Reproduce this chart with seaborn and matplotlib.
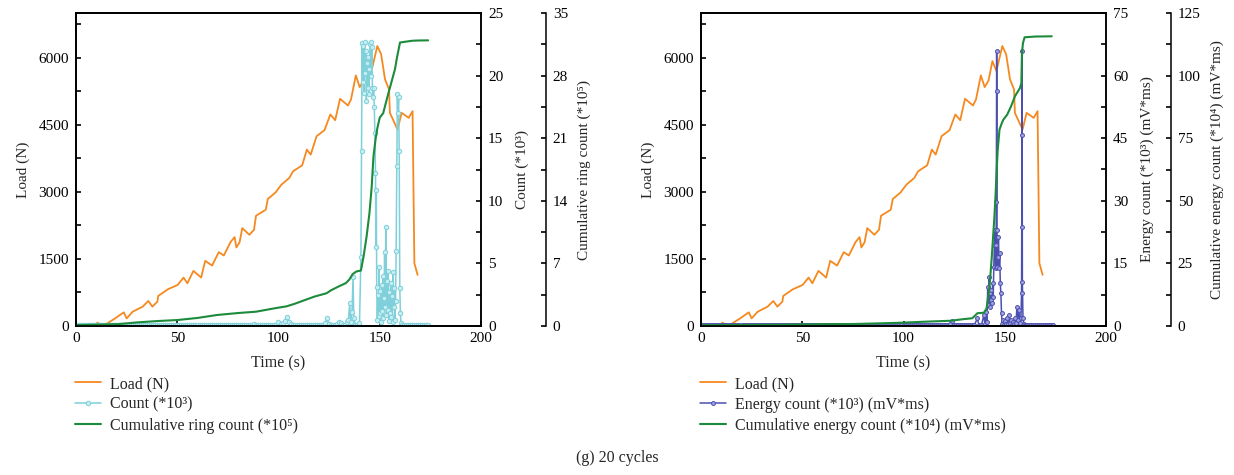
import matplotlib
matplotlib.use("Agg")
import matplotlib.pyplot as plt
import seaborn as sns
from matplotlib.ticker import MultipleLocator

# ---------------- data ----------------
load_t = [9.0, 10.6, 13.0, 15.5, 19.3, 23.6, 25.0, 28.0, 32.9, 35.7, 37.7, 40.2, 40.6,
          45.4, 50.2, 53.1, 55.0, 58.0, 61.8, 63.8, 67.2, 70.5, 73.0, 74.4, 76.3, 78.3,
          79.2, 80.8, 82.1, 85.6, 87.9, 88.9, 93.7, 94.7, 98.6, 101.4, 105.3, 107.2,
          111.7, 114.0, 115.9, 118.8, 122.7, 125.6, 128.0, 130.4, 134.3, 135.8, 138.2,
          140.1, 142.0, 143.9, 145.9, 148.8, 150.7, 152.6, 154.6, 155.0, 158.8, 160.8,
          164.3, 166.2, 167.1, 168.7]
load_n = [0, 75, 0, 60, 170, 306, 170, 320, 433, 560, 433, 545, 672, 822, 919, 1083, 956,
          1233, 1083, 1457, 1352, 1651, 1577, 1704, 1875, 1988, 1756, 1875, 2189, 2040,
          2152, 2466, 2600, 2839, 2989, 3160, 3310, 3460, 3594, 3945, 3833, 4244, 4379,
          4730, 4603, 5081, 4931, 5066, 5604, 5342, 5492, 5925, 5701, 6262, 6075, 5514,
          5290, 4767, 4394, 4767, 4655, 4804, 1405, 1143]

# Count (*10^3): quiet stage sampled every second (0-134 s), then the bursts
count_t = [0, 1, 2, 3, 4, 5, 6, 7, 8, 9, 10, 11, 12, 13, 14, 15, 16, 17, 18, 19,
           20, 21, 22, 23, 24, 25, 26, 27, 28, 29, 30, 31, 32, 33, 34, 35, 36, 37, 38, 39,
           40, 41, 42, 43, 44, 45, 46, 47, 48, 49, 50, 51, 52, 53, 54, 55, 56, 57, 58, 59,
           60, 61, 62, 63, 64, 65, 66, 67, 68, 69, 70, 71, 72, 73, 74, 75, 76, 77, 78, 79,
           80, 81, 82, 83, 84, 85, 86, 87, 88, 89, 90, 91, 92, 93, 94, 95, 96, 97, 98, 99,
           100, 101, 102, 103, 104, 105, 106, 107, 108, 109, 110, 111, 112, 113, 114, 115,
           116, 117, 118, 119, 120, 121, 122, 123, 124, 125, 126, 127, 128, 129, 130, 131,
           132, 133, 134,
           134.5, 135.2, 135.6, 136.3, 136.8, 137.2, 138.0, 139.0, 140.0, 140.7, 141.0,
           141.3, 141.6, 141.9, 142.2, 142.5, 142.8, 143.1, 143.4, 143.7, 144.0, 144.3,
           144.6, 144.9, 145.2, 145.5, 145.8, 146.1, 146.4, 146.7, 147.0, 147.3, 147.6,
           147.9, 148.1, 148.3, 148.5, 148.8, 149.1, 149.4, 149.7, 150.0, 150.3, 150.6,
           150.9, 151.2, 151.5, 151.8, 152.1, 152.4, 152.7, 153.0, 153.3, 153.6, 153.9,
           154.2, 154.5, 154.8, 155.1, 155.4, 155.7, 156.0, 156.3, 156.6, 156.9, 157.2,
           157.5, 157.8, 158.1, 158.4, 158.7, 159.0, 159.3, 159.6, 159.9, 160.2, 160.5,
           161, 162, 163, 164, 165, 166, 167, 168, 169, 170, 171, 172, 173, 174]
count_v = [0.05, 0.05, 0.05, 0.05, 0.05, 0.05, 0.05, 0.05, 0.05, 0.05,
           0.05, 0.05, 0.05, 0.05, 0.05, 0.05, 0.05, 0.05, 0.05, 0.05,
           0.05, 0.05, 0.05, 0.05, 0.05, 0.05, 0.05, 0.05, 0.05, 0.05,
           0.05, 0.05, 0.05, 0.05, 0.05, 0.05, 0.05, 0.05, 0.05, 0.05,
           0.05, 0.05, 0.05, 0.05, 0.05, 0.05, 0.05, 0.05, 0.05, 0.05,
           0.05, 0.05, 0.05, 0.05, 0.05, 0.1, 0.05, 0.05, 0.05, 0.05,
           0.05, 0.05, 0.05, 0.05, 0.05, 0.05, 0.05, 0.05, 0.05, 0.05,
           0.05, 0.05, 0.05, 0.05, 0.05, 0.05, 0.05, 0.05, 0.05, 0.05,
           0.05, 0.05, 0.05, 0.05, 0.05, 0.05, 0.05, 0.05, 0.15, 0.1,
           0.05, 0.05, 0.05, 0.05, 0.05, 0.05, 0.05, 0.05, 0.05, 0.1,
           0.3, 0.15, 0.2, 0.4, 0.75, 0.3, 0.15, 0.05, 0.05, 0.05,
           0.1, 0.05, 0.05, 0.05, 0.05, 0.05, 0.1, 0.05, 0.05, 0.05,
           0.05, 0.05, 0.05, 0.2, 0.6, 0.15, 0.05, 0.05, 0.05, 0.15,
           0.35, 0.2, 0.1, 0.05, 0.3,
           0.5, 1.8, 0.3, 1.1, 3.9, 0.6, 0.1, 0.05, 0.2, 5.5, 14.0, 22.6, 19.5, 22.4, 18.6,
           22.7, 20.2, 22.0, 18.0, 21.0, 19.0, 21.5, 18.5, 20.5, 22.5, 22.7, 20.0, 22.3,
           19.0, 18.3, 19.0, 17.5, 15.4, 12.2, 6.3, 10.9, 3.1, 0.5, 2.5, 0.8, 4.7, 1.0,
           2.8, 0.3, 3.3, 1.2, 4.0, 0.6, 2.2, 5.9, 1.5, 7.9, 0.9, 3.6, 1.3, 4.4, 0.4, 2.7,
           1.0, 3.4, 0.7, 2.4, 0.3, 4.3, 1.5, 3.0, 0.5, 2.0, 6.0, 12.8, 18.5, 17.0, 18.3,
           14.0, 3.0, 1.0, 0.2,
           0.05, 0.05, 0.05, 0.05, 0.05, 0.05, 0.05, 0.05, 0.05, 0.05, 0.05, 0.05, 0.05,
           0.05]

# Cumulative ring count (*10^5)
cum_t = [0, 10, 21.3, 30, 40, 50.2, 60, 69.6, 80, 88.9, 98.6, 104, 108.2, 113, 117.9,
         123.7, 126, 129.5, 133.3, 135, 136.6, 138.5, 140.7, 142.0, 143.5, 144.9, 146.0,
         146.9, 148.0, 148.8, 150, 151.7, 154, 157.5, 158.5, 160.0, 163, 166.2, 170, 173.9]
cum_v = [0.1, 0.15, 0.22, 0.4, 0.55, 0.67, 0.9, 1.23, 1.45, 1.6, 2.0, 2.2, 2.5, 2.9, 3.3,
         3.66, 4.0, 4.4, 4.8, 5.2, 5.8, 6.1, 6.2, 7.76, 10.0, 12.6, 15.5, 18.96, 21.0,
         22.1, 23.3, 23.8, 25.8, 28.7, 30.0, 31.7, 31.8, 31.9, 31.93, 31.94]

# Energy count (*10^3) (mV*ms): quiet stage every second (0-135 s), then the bursts
energy_t = [0, 1, 2, 3, 4, 5, 6, 7, 8, 9, 10, 11, 12, 13, 14, 15, 16, 17, 18, 19,
            20, 21, 22, 23, 24, 25, 26, 27, 28, 29, 30, 31, 32, 33, 34, 35, 36, 37, 38, 39,
            40, 41, 42, 43, 44, 45, 46, 47, 48, 49, 50, 51, 52, 53, 54, 55, 56, 57, 58, 59,
            60, 61, 62, 63, 64, 65, 66, 67, 68, 69, 70, 71, 72, 73, 74, 75, 76, 77, 78, 79,
            80, 81, 82, 83, 84, 85, 86, 87, 88, 89, 90, 91, 92, 93, 94, 95, 96, 97, 98, 99,
            100, 101, 102, 103, 104, 105, 106, 107, 108, 109, 110, 111, 112, 113, 114, 115,
            116, 117, 118, 119, 120, 121, 122, 123, 124, 125, 126, 127, 128, 129, 130, 131,
            132, 133, 134, 135,
            136.5, 137.2, 138.5, 139.7, 140.2, 140.7, 141.2, 141.6, 141.9, 142.2, 142.5,
            142.8, 143.1, 143.4, 143.7, 144.0, 144.3, 144.6, 144.9, 145.2, 145.5, 145.7,
            145.85, 146.0, 146.1, 146.2, 146.4, 146.6, 146.9, 147.2, 147.5, 147.8, 148.1,
            148.4, 148.7, 149.0, 149.5, 150.0, 150.5, 151.0, 151.5, 152.2, 152.7, 153.2,
            153.7, 154.2, 154.7, 155.2, 155.6, 156.0, 156.5, 157.0, 157.5, 158.0, 158.3,
            158.4, 158.5, 158.6, 158.7, 159.0, 159.4, 159.8, 160.5,
            161, 162, 163, 164, 165, 166, 167, 168, 169, 170, 171, 172, 173, 174]
energy_v = [0.2, 0.2, 0.2, 0.2, 0.2, 0.2, 0.2, 0.2, 0.2, 0.2,
            0.2, 0.2, 0.2, 0.2, 0.2, 0.2, 0.2, 0.2, 0.2, 0.2,
            0.2, 0.2, 0.2, 0.2, 0.2, 0.2, 0.2, 0.2, 0.2, 0.2,
            0.2, 0.2, 0.2, 0.2, 0.2, 0.2, 0.2, 0.2, 0.2, 0.2,
            0.2, 0.2, 0.2, 0.2, 0.2, 0.2, 0.2, 0.2, 0.2, 0.2,
            0.2, 0.2, 0.2, 0.2, 0.2, 0.2, 0.2, 0.2, 0.2, 0.2,
            0.2, 0.2, 0.2, 0.2, 0.2, 0.2, 0.2, 0.2, 0.2, 0.2,
            0.2, 0.2, 0.2, 0.2, 0.2, 0.2, 0.2, 0.2, 0.2, 0.2,
            0.2, 0.2, 0.2, 0.2, 0.2, 0.2, 0.2, 0.2, 0.2, 0.2,
            0.2, 0.2, 0.2, 0.2, 0.2, 0.2, 0.2, 0.2, 0.2, 0.2,
            0.2, 0.2, 0.2, 0.2, 0.2, 0.2, 0.2, 0.2, 0.2, 0.2,
            0.2, 0.2, 0.2, 0.2, 0.2, 0.2, 0.2, 0.2, 0.2, 0.2,
            0.2, 0.2, 0.3, 0.4, 1.3, 0.3, 0.2, 0.2, 0.2, 0.2,
            0.2, 0.2, 0.2, 0.2, 0.2, 0.3,
            1.8, 0.3, 0.2, 2.6, 0.4, 3.4, 1.0, 9.4, 5.0, 11.8, 7.8, 4.6, 6.2, 8.6, 5.5,
            10.2, 7.0, 14.2, 19.4, 23.0, 14.0, 19.4, 29.8, 65.8, 56.2, 23.0, 14.2, 16.6,
            21.4, 13.8, 17.4, 10.2, 7.8, 3.0, 0.5, 1.5, 0.3, 1.2, 0.4, 1.8, 0.5, 2.6, 0.8,
            1.5, 0.3, 1.0, 0.4, 2.0, 0.8, 4.6, 1.5, 3.8, 0.8, 2.0, 7.8, 23.8, 65.8, 45.8,
            10.6, 2.0, 0.5, 0.3, 0.2,
            0.2, 0.2, 0.2, 0.2, 0.2, 0.2, 0.2, 0.2, 0.2, 0.2, 0.2, 0.2, 0.2, 0.2]

# Cumulative energy count (*10^4) (mV*ms)
cume_t = [0, 20, 40, 60, 75.6, 90, 98.6, 110, 123.4, 129.2, 134, 136.5, 139.7, 141.0,
          141.6, 142.5, 143.5, 144.9, 145.5, 146.0, 146.5, 147.4, 148.3, 149.3, 151.2,
          153.1, 155, 157.5, 158.2, 158.5, 159.0, 159.8, 165, 173.2]
cume_v = [0.3, 0.4, 0.5, 0.7, 0.8, 1.1, 1.3, 1.7, 2.1, 2.7, 3.1, 5.1, 5.3, 7.0, 10.4, 16.0,
          26.4, 43.7, 53.0, 62.0, 70.0, 78.4, 80.5, 82.4, 84.4, 87.7, 91.7, 95.0, 97.0,
          109.0, 113.0, 115.3, 115.6, 115.7]

x_ticks = [0, 50, 100, 150, 200]
load_ticks = [0, 1500, 3000, 4500, 6000]
count_ticks = [0, 5, 10, 15, 20, 25]
cum_ticks = [0, 7, 14, 21, 28, 35]
energy_ticks = [0, 15, 30, 45, 60, 75]
cume_ticks = [0, 25, 50, 75, 100, 125]

# ---------------- style ----------------
sns.set_theme(style="white")
plt.rcParams['font.family'] = ['Liberation Serif', 'DejaVu Serif']
plt.rcParams['axes.unicode_minus'] = False
FS = 11          # tick labels / axis labels
FS_LEG = 11.5    # legend

C_LOAD = "#f5891f"
C_CNT = "#7fd0da"
C_CNT_F = "#c9eef2"
C_CUM = "#1c8b3b"
C_EN = "#4b4fb0"
C_EN_F = "#9fa2dd"

fig = plt.figure(figsize=(12.34, 4.75), dpi=100)
W, H = 1234, 475
PANEL_W = 405


def style_axis(a, side):
    for s in a.spines.values():
        s.set_color("black")
        s.set_linewidth(1.1)
    a.tick_params(axis="y", which="both", direction="in", length=3.5, width=1.2,
                  colors="black", labelsize=FS, pad=5, left=(side == "left"),
                  right=(side == "right"), labelleft=(side == "left"),
                  labelright=(side == "right"))


def panel(left_px, t2, v2, col2, fill2, marker2, lim2, ticks2, lab2, t3, v3, lim3,
          ticks3, lab3, leg_labels):
    ax = fig.add_axes([left_px / W, 1 - 326 / H, PANEL_W / W, 313 / H])
    sns.lineplot(x=load_t, y=load_n, ax=ax, color=C_LOAD, lw=1.3, sort=False,
                 estimator=None, legend=False)
    ax.set_xlim(0, 200)
    ax.set_ylim(0, 7000)
    ax.set_xticks(x_ticks)
    ax.set_yticks(load_ticks)
    ax.yaxis.set_minor_locator(MultipleLocator(750))
    style_axis(ax, "left")
    ax.tick_params(axis="x", which="both", direction="in", length=3.5, width=1.2,
                   colors="black", labelsize=FS, top=False, bottom=True, pad=4)
    ax.set_xlabel("Time (s)", fontsize=FS + 0.5, labelpad=8)
    ax.set_ylabel("Load (N)", fontsize=FS, labelpad=6)
    h1 = ax.get_lines()[-1]

    ax2 = ax.twinx()
    sns.lineplot(x=t2, y=v2, ax=ax2, color=col2, lw=1.1, sort=False, estimator=None,
                 legend=False, marker="o", markersize=marker2, markeredgecolor=col2,
                 markerfacecolor=fill2, markeredgewidth=0.7)
    ax2.set_ylim(0, lim2)
    ax2.set_yticks(ticks2)
    ax2.yaxis.set_minor_locator(MultipleLocator(ticks2[1] / 2))
    style_axis(ax2, "right")
    ax2.set_ylabel(lab2, fontsize=FS, labelpad=9)
    h2 = ax2.get_lines()[-1]

    ax3 = ax.twinx()
    ax3.spines["right"].set_position(("axes", 1.16))
    sns.lineplot(x=t3, y=v3, ax=ax3, color=C_CUM, lw=1.5, sort=False, estimator=None,
                 legend=False)
    ax3.set_ylim(0, lim3)
    ax3.set_yticks(ticks3)
    ax3.yaxis.set_minor_locator(MultipleLocator(ticks3[1] / 2))
    style_axis(ax3, "right")
    ax3.set_ylabel(lab3, fontsize=FS, labelpad=7)
    h3 = ax3.get_lines()[-1]
    for a in (ax, ax2, ax3):
        a.set_xlim(0, 200)
        a.grid(False)
        a.patch.set_visible(False)

    fig.legend([h1, h2, h3], leg_labels, loc="upper left",
               bbox_to_anchor=((left_px - 1) / W, 1 - 376 / H), frameon=False,
               fontsize=FS_LEG, handlelength=1.6, handletextpad=0.6, labelspacing=0.3,
               borderaxespad=0, borderpad=0)


panel(76, count_t, count_v, C_CNT, C_CNT_F, 3.2, 25, count_ticks, "Count (*10³)",
      cum_t, cum_v, 35, cum_ticks, "Cumulative ring count (*10⁵)",
      ["Load (N)", "Count (*10³)", "Cumulative ring count (*10⁵)"])
panel(701, energy_t, energy_v, C_EN, C_EN_F, 2.8, 75, energy_ticks,
      "Energy count (*10³) (mV*ms)", cume_t, cume_v, 125, cume_ticks,
      "Cumulative energy count (*10⁴) (mV*ms)",
      ["Load (N)", "Energy count (*10³) (mV*ms)",
       "Cumulative energy count (*10⁴) (mV*ms)"])

fig.text(0.5, 1 - 458 / H, "(g) 20 cycles", ha="center", va="center", fontsize=FS + 0.5)

fig.savefig("out.png", dpi=100)
